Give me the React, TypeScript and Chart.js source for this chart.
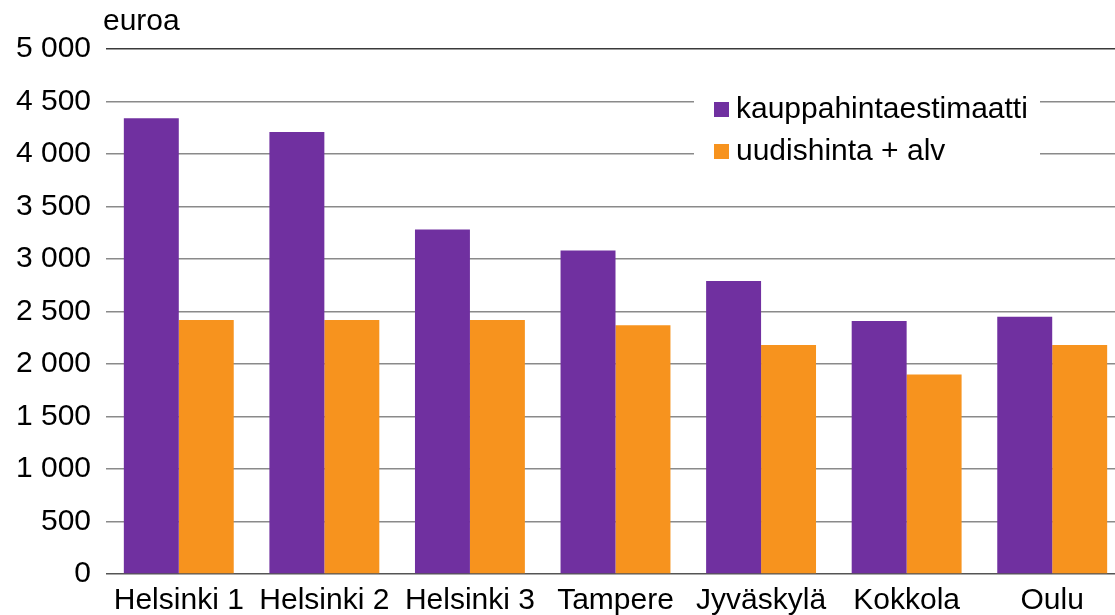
import React, { useEffect, useRef } from "react";
import { Chart, registerables } from "chart.js";

Chart.register(...registerables);

const categories = ["Helsinki 1", "Helsinki 2", "Helsinki 3", "Tampere", "Jyväskylä", "Kokkola", "Oulu"];
const kauppahinta = [4340, 4210, 3280, 3080, 2790, 2410, 2450];
const uudishinta = [2420, 2420, 2420, 2370, 2180, 1900, 2180];
const seriesNames = ["kauppahintaestimaatti", "uudishinta + alv"];
const seriesColors = ["#7030A0", "#F7931E"];
const yUnit = "euroa";

const FONT = "'Liberation Sans', Arial, sans-serif";

function fmt(v: number): string {
  const s = String(Math.round(v));
  return s.replace(/\B(?=(\d{3})+(?!\d))/g, " ");
}

const overlayPlugin = {
  id: "overlay",
  afterDraw(chart: any) {
    const ctx = chart.ctx;
    ctx.save();
    ctx.font = `30px ${FONT}`;
    ctx.fillStyle = "#000";
    ctx.textBaseline = "middle";
    ctx.textAlign = "left";
    ctx.fillText(yUnit, 103, 22);
    ctx.fillStyle = "#fff";
    ctx.fillRect(694, 86, 346, 84);
    for (let i = 0; i < seriesNames.length; i++) {
      const cy = 110 + i * 42;
      ctx.fillStyle = seriesColors[i];
      ctx.fillRect(714, cy - 8, 15, 15);
      ctx.fillStyle = "#000";
      ctx.fillText(seriesNames[i], 736, cy);
    }
    ctx.restore();
  },
};

export default function App() {
  const ref = useRef<HTMLCanvasElement | null>(null);
  useEffect(() => {
    if (!ref.current) return;
    const chart = new Chart(ref.current, {
      type: "bar",
      data: {
        labels: categories,
        datasets: [
          { label: seriesNames[0], data: kauppahinta, backgroundColor: seriesColors[0], categoryPercentage: 0.755, barPercentage: 1 },
          { label: seriesNames[1], data: uudishinta, backgroundColor: seriesColors[1], categoryPercentage: 0.755, barPercentage: 1 },
        ],
      },
      options: {
        responsive: false,
        animation: false,
        devicePixelRatio: 1,
        layout: { padding: { top: 49, right: 0, left: 0, bottom: 0 } },
        plugins: { legend: { display: false }, tooltip: { enabled: false } },
        scales: {
          x: {
            grid: { display: false, drawTicks: false },
            border: { display: false },
            ticks: { font: { family: FONT, size: 30 }, color: "#000", padding: 9, maxRotation: 0, autoSkip: false },
            afterFit: (s: any) => { s.height = 41; },
          },
          y: {
            min: 0,
            max: 5000,
            grid: {
              drawTicks: false,
              lineWidth: 1.5,
              color: (c: any) => (c.tick && c.tick.value === 5000 ? "#3a3a3a" : c.tick && c.tick.value === 0 ? "#555555" : "#8a8a8a"),
            },
            border: { display: false },
            ticks: {
              stepSize: 500,
              padding: 15,
              font: { family: FONT, size: 30 },
              color: "#000",
              callback: (v: any) => fmt(Number(v)),
            },
            afterFit: (s: any) => { s.width = 106; },
          },
        },
      },
      plugins: [overlayPlugin],
    });
    return () => chart.destroy();
  }, []);
  return (
    <div style={{ position: "fixed", left: 0, top: 0, width: 1115, height: 615, overflow: "hidden", background: "#fff" }}>
      <canvas ref={ref} width={1125} height={615} style={{ display: "block", width: 1125, height: 615 }} />
    </div>
  );
}
